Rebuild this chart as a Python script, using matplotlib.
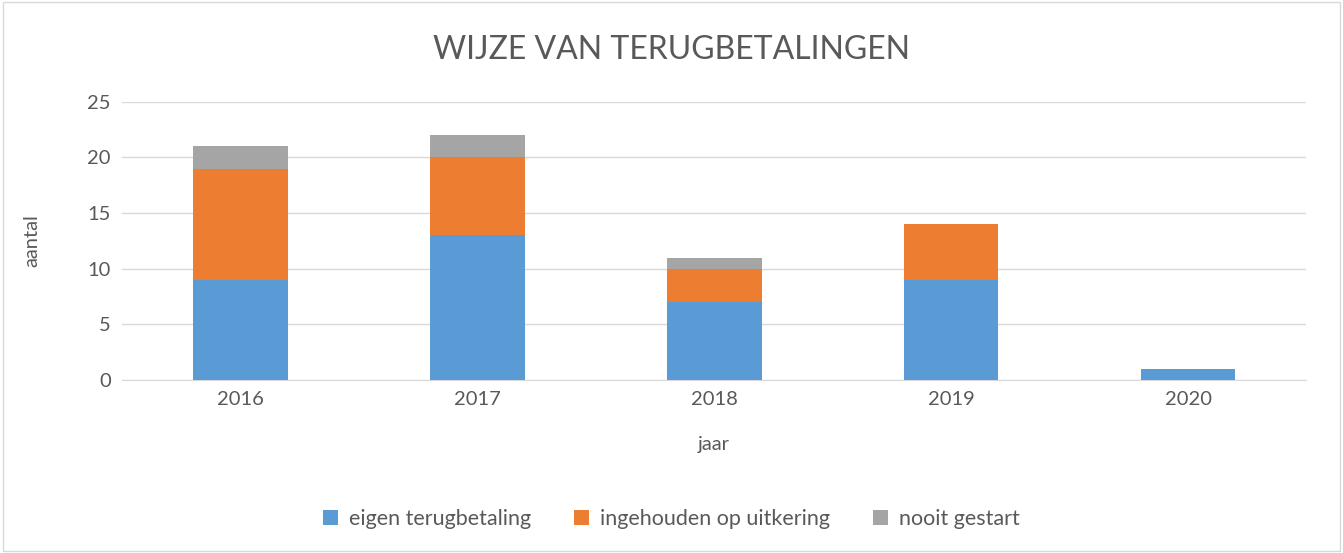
import matplotlib
matplotlib.use('Agg')
import matplotlib.pyplot as plt
import numpy as np

plt.rcParams['font.family'] = ['Lato', 'DejaVu Sans']

# Data
years = ['2016', '2017', '2018', '2019', '2020']
eigen = [9, 13, 7, 9, 1]
ingehouden = [10, 7, 3, 5, 0]
nooit = [2, 2, 1, 0, 0]

blue = '#5B9BD5'
orange = '#ED7D31'
grey = '#A5A5A5'
text_col = '#595959'

fig = plt.figure(figsize=(13.43, 5.53), dpi=100)
ax = fig.add_axes([0.0908, 0.313, 0.882, 0.503])

x = np.arange(len(years))
w = 0.4
bottom2 = np.array(eigen)
bottom3 = bottom2 + np.array(ingehouden)

ax.bar(x, eigen, w, color=blue, label='eigen terugbetaling', zorder=3)
ax.bar(x, ingehouden, w, bottom=bottom2, color=orange, label='ingehouden op uitkering', zorder=3)
ax.bar(x, nooit, w, bottom=bottom3, color=grey, label='nooit gestart', zorder=3)

ax.set_xlim(-0.5, 4.5)
ax.set_ylim(0, 25)
ax.set_yticks(range(0, 26, 5))
ax.set_xticks(x)
ax.set_xticklabels(years)
ax.grid(axis='y', color='#D9D9D9', linewidth=1, zorder=0)
for s in ['top', 'right', 'left']:
    ax.spines[s].set_visible(False)
ax.spines['bottom'].set_color('#D9D9D9')
ax.tick_params(axis='both', length=0, labelsize=14.5, colors=text_col, pad=8)

ax.set_xlabel('jaar', fontsize=14.5, color=text_col, labelpad=20)
ax.set_ylabel('aantal', fontsize=14.5, color=text_col, labelpad=34)

fig.text(0.5, 0.91, 'WIJZE VAN TERUGBETALINGEN', ha='center', va='center',
         fontsize=23, color=text_col)

fig.legend(loc='center', bbox_to_anchor=(0.5, 0.062), ncol=3, frameon=False,
           fontsize=15.5, labelcolor=text_col, handlelength=0.7, handleheight=0.7,
           columnspacing=2.0, handletextpad=0.5)

# border around the chart
fig.patches.append(plt.Rectangle((0.002, 0.003), 0.996, 0.994, transform=fig.transFigure,
                                 fill=False, edgecolor='#D9D9D9', linewidth=1))

fig.savefig('out.png', dpi=100)
